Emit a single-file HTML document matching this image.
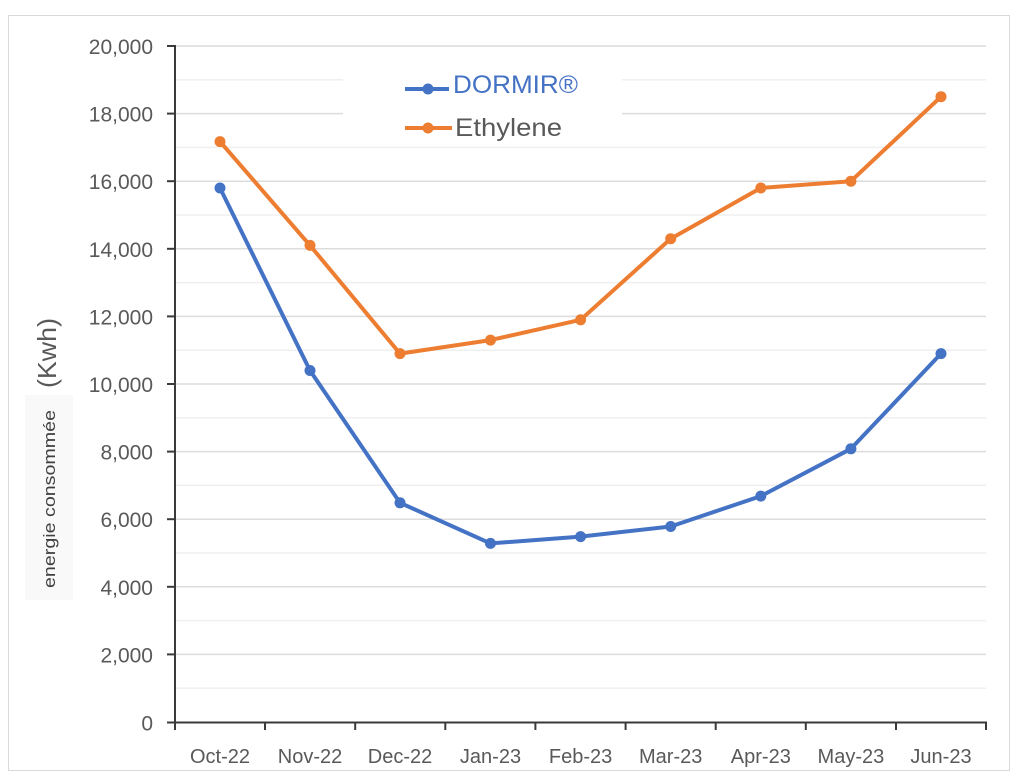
<!DOCTYPE html>
<html><head><meta charset="utf-8"><style>
html,body{margin:0;padding:0;background:#fff;}
svg{display:block;}
text{font-family:"Liberation Sans",sans-serif;}
</style></head><body>
<svg width="1024" height="778" viewBox="0 0 1024 778" xmlns="http://www.w3.org/2000/svg">
<rect x="0" y="0" width="1024" height="778" fill="#fff"/>
<rect x="8.5" y="15.5" width="1001" height="755" fill="#fff" stroke="#d9d9d9" stroke-width="1"/>
<!-- minor gridlines -->
<g stroke="#efefef" stroke-width="1.5">
<line x1="176" x2="986" y1="79.8" y2="79.8"/>
<line x1="176" x2="986" y1="147.4" y2="147.4"/>
<line x1="176" x2="986" y1="215" y2="215"/>
<line x1="176" x2="986" y1="282.6" y2="282.6"/>
<line x1="176" x2="986" y1="350.2" y2="350.2"/>
<line x1="176" x2="986" y1="417.8" y2="417.8"/>
<line x1="176" x2="986" y1="485.4" y2="485.4"/>
<line x1="176" x2="986" y1="553" y2="553"/>
<line x1="176" x2="986" y1="620.6" y2="620.6"/>
<line x1="176" x2="986" y1="688.2" y2="688.2"/>
</g>
<!-- major gridlines -->
<g stroke="#dcdcdc" stroke-width="1.5">
<line x1="176" x2="986" y1="46" y2="46"/>
<line x1="176" x2="986" y1="113.6" y2="113.6"/>
<line x1="176" x2="986" y1="181.2" y2="181.2"/>
<line x1="176" x2="986" y1="248.8" y2="248.8"/>
<line x1="176" x2="986" y1="316.4" y2="316.4"/>
<line x1="176" x2="986" y1="384" y2="384"/>
<line x1="176" x2="986" y1="451.6" y2="451.6"/>
<line x1="176" x2="986" y1="519.2" y2="519.2"/>
<line x1="176" x2="986" y1="586.8" y2="586.8"/>
<line x1="176" x2="986" y1="654.4" y2="654.4"/>
</g>
<!-- legend background -->
<rect x="343" y="60" width="279" height="80" fill="#fff"/>
<!-- axes -->
<g stroke="#3a3a3a" stroke-width="2">
<line x1="175" x2="175" y1="45" y2="723"/>
<line x1="174" x2="987" y1="722.5" y2="722.5"/>
<line x1="167" x2="175" y1="46" y2="46"/>
<line x1="167" x2="175" y1="113.6" y2="113.6"/>
<line x1="167" x2="175" y1="181.2" y2="181.2"/>
<line x1="167" x2="175" y1="248.8" y2="248.8"/>
<line x1="167" x2="175" y1="316.4" y2="316.4"/>
<line x1="167" x2="175" y1="384" y2="384"/>
<line x1="167" x2="175" y1="451.6" y2="451.6"/>
<line x1="167" x2="175" y1="519.2" y2="519.2"/>
<line x1="167" x2="175" y1="586.8" y2="586.8"/>
<line x1="167" x2="175" y1="654.4" y2="654.4"/>
<line x1="167" x2="175" y1="722.5" y2="722.5"/>
<line x1="175" x2="175" y1="722" y2="730"/>
<line x1="265" x2="265" y1="722" y2="730"/>
<line x1="355.2" x2="355.2" y1="722" y2="730"/>
<line x1="445.3" x2="445.3" y1="722" y2="730"/>
<line x1="535.4" x2="535.4" y1="722" y2="730"/>
<line x1="625.6" x2="625.6" y1="722" y2="730"/>
<line x1="715.7" x2="715.7" y1="722" y2="730"/>
<line x1="805.8" x2="805.8" y1="722" y2="730"/>
<line x1="896" x2="896" y1="722" y2="730"/>
<line x1="986" x2="986" y1="722" y2="730"/>
</g>
<!-- y tick labels -->
<g fill="#595959" font-size="21" text-anchor="end">
<text x="153" y="54">20,000</text>
<text x="153" y="121.6">18,000</text>
<text x="153" y="189.2">16,000</text>
<text x="153" y="256.8">14,000</text>
<text x="153" y="324.4">12,000</text>
<text x="153" y="392">10,000</text>
<text x="153" y="459.6">8,000</text>
<text x="153" y="527.2">6,000</text>
<text x="153" y="594.8">4,000</text>
<text x="153" y="662.4">2,000</text>
<text x="153" y="730.5">0</text>
</g>
<!-- x tick labels -->
<g fill="#595959" font-size="20" text-anchor="middle">
<text x="220" y="763">Oct-22</text>
<text x="310" y="763">Nov-22</text>
<text x="400" y="763">Dec-22</text>
<text x="490.5" y="763">Jan-23</text>
<text x="580.6" y="763">Feb-23</text>
<text x="670.7" y="763">Mar-23</text>
<text x="760.8" y="763">Apr-23</text>
<text x="850.9" y="763">May-23</text>
<text x="941" y="763">Jun-23</text>
</g>
<!-- y axis title -->
<rect x="25" y="395" width="48" height="205" fill="#f9f9f9"/>
<text transform="translate(55,499) rotate(-90)" font-size="17" fill="#404040" text-anchor="middle" textLength="178" lengthAdjust="spacingAndGlyphs">energie consommée</text>
<text transform="translate(56,353) rotate(-90)" font-size="26" fill="#595959" text-anchor="middle" textLength="70" lengthAdjust="spacingAndGlyphs">(Kwh)</text>
<!-- series -->
<polyline fill="none" stroke="#ED7D31" stroke-width="4" stroke-linejoin="round"
 points="220,141.6 310,245.4 400,353.6 490.5,340.1 580.6,319.8 670.7,238.7 760.8,188 850.9,181.2 941,96.7"/>
<g fill="#ED7D31">
<circle cx="220" cy="141.6" r="5.5"/><circle cx="310" cy="245.4" r="5.5"/><circle cx="400" cy="353.6" r="5.5"/>
<circle cx="490.5" cy="340.1" r="5.5"/><circle cx="580.6" cy="319.8" r="5.5"/><circle cx="670.7" cy="238.7" r="5.5"/>
<circle cx="760.8" cy="188" r="5.5"/><circle cx="850.9" cy="181.2" r="5.5"/><circle cx="941" cy="96.7" r="5.5"/>
</g>
<polyline fill="none" stroke="#4472C4" stroke-width="4" stroke-linejoin="round"
 points="220,188 310,370.5 400,502.8 490.5,543.4 580.6,536.6 670.7,526.5 760.8,496.1 850.9,448.8 941,353.6"/>
<g fill="#4472C4">
<circle cx="220" cy="188" r="5.5"/><circle cx="310" cy="370.5" r="5.5"/><circle cx="400" cy="502.8" r="5.5"/>
<circle cx="490.5" cy="543.4" r="5.5"/><circle cx="580.6" cy="536.6" r="5.5"/><circle cx="670.7" cy="526.5" r="5.5"/>
<circle cx="760.8" cy="496.1" r="5.5"/><circle cx="850.9" cy="448.8" r="5.5"/><circle cx="941" cy="353.6" r="5.5"/>
</g>
<!-- legend -->
<line x1="405" x2="449" y1="89" y2="89" stroke="#4472C4" stroke-width="4"/>
<circle cx="428" cy="89" r="5.5" fill="#4472C4"/>
<text x="453" y="93" font-size="25" fill="#4472C4" textLength="125" lengthAdjust="spacingAndGlyphs">DORMIR®</text>
<line x1="405" x2="452" y1="128" y2="128" stroke="#ED7D31" stroke-width="4"/>
<circle cx="428" cy="128" r="5.5" fill="#ED7D31"/>
<text x="455" y="136" font-size="25" fill="#595959" textLength="107" lengthAdjust="spacingAndGlyphs">Ethylene</text>
</svg>
</body></html>
